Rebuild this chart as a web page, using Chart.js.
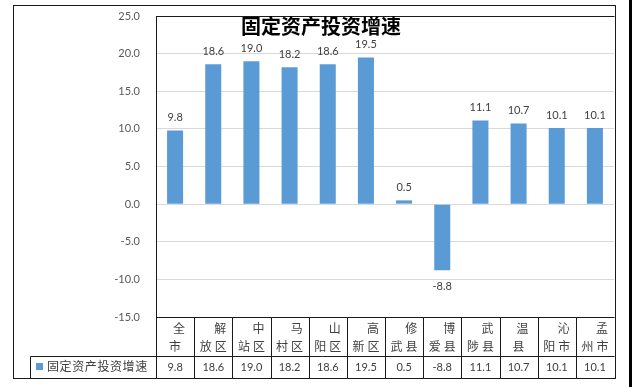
<!DOCTYPE html>
<html>
<head>
<meta charset="utf-8">
<script src="https://cdn.jsdelivr.net/npm/chart.js@4/dist/chart.umd.min.js"></script>
<style>
  html, body { margin: 0; padding: 0; background: #fff; }
  #wrap { width: 632px; height: 387px; }
</style>
</head>
<body>
<div id="wrap"><canvas id="chart" width="632" height="387"></canvas></div>
<script>
// 数据
const chartTitle = '固定资产投资增速';
const seriesName = '固定资产投资增速';
const categories = ['全市', '解放区', '中站区', '马村区', '山阳区', '高新区', '修武县', '博爱县', '武陟县', '温县', '沁阳市', '孟州市'];
const growth = [9.8, 18.6, 19.0, 18.2, 18.6, 19.5, 0.5, -8.8, 11.1, 10.7, 10.1, 10.1];
const yMin = -15, yMax = 25, yStep = 5;

const barColor = '#5B9BD5';
const textColor = '#404040';
const cjkFont = '"Noto Sans CJK SC", "Noto Sans", sans-serif';
const numFont = 'Lato, "Open Sans", sans-serif';

const px = v => Math.round(v) + 0.5;

// 外框和背景
const framePlugin = {
  id: 'frame',
  beforeDraw(chart) {
    const ctx = chart.ctx;
    ctx.save();
    ctx.fillStyle = '#fff';
    ctx.fillRect(0, 0, chart.width, chart.height);
    ctx.fillStyle = '#000';
    ctx.fillRect(629, 0, 3, chart.height);
    ctx.restore();
  },
  afterDraw(chart) {
    const ctx = chart.ctx;
    const a = chart.chartArea;
    ctx.save();
    ctx.strokeStyle = '#1a1a1a';
    ctx.lineWidth = 1;
    // 外框
    ctx.strokeRect(px(13), px(5), 615 - 13, 378 - 5);
    // 绘图区边线
    ctx.beginPath();
    ctx.moveTo(px(a.left), px(a.top));
    ctx.lineTo(px(a.right), px(a.top));
    ctx.moveTo(px(a.left), px(a.bottom));
    ctx.lineTo(px(a.right), px(a.bottom));
    ctx.moveTo(px(a.left), px(a.top));
    ctx.lineTo(px(a.left), 378);
    ctx.stroke();
    ctx.restore();
  }
};

// 标题
const titlePlugin = {
  id: 'chartTitle',
  afterDraw(chart) {
    const ctx = chart.ctx;
    ctx.save();
    ctx.font = 'bold 20px ' + cjkFont;
    ctx.fillStyle = '#000';
    ctx.textAlign = 'center';
    ctx.textBaseline = 'middle';
    ctx.fillText(chartTitle, 321, 26);
    ctx.restore();
  }
};

// 数据标签
const labelPlugin = {
  id: 'valueLabels',
  afterDatasetsDraw(chart) {
    const ctx = chart.ctx;
    const meta = chart.getDatasetMeta(0);
    ctx.save();
    ctx.font = '11px ' + numFont;
    ctx.fillStyle = textColor;
    ctx.textAlign = 'center';
    ctx.textBaseline = 'middle';
    meta.data.forEach((bar, i) => {
      const v = growth[i];
      const y = v >= 0 ? bar.y - 13 : bar.y + 16;
      ctx.fillText(v.toFixed(1), bar.x, y);
    });
    ctx.restore();
  }
};

// 模拟数据表
const tablePlugin = {
  id: 'dataTable',
  afterDraw(chart) {
    const ctx = chart.ctx;
    const a = chart.chartArea;
    const n = categories.length;
    const w = (a.right - a.left) / n;
    const rowTop = 356, rowBottom = 378, legendLeft = 30;
    ctx.save();
    ctx.strokeStyle = '#1a1a1a';
    ctx.lineWidth = 1;
    ctx.beginPath();
    for (let i = 1; i < n; i++) {
      const x = px(a.left + i * w);
      ctx.moveTo(x, a.bottom);
      ctx.lineTo(x, rowBottom);
    }
    ctx.moveTo(px(legendLeft), px(rowTop));
    ctx.lineTo(px(a.right), px(rowTop));
    ctx.moveTo(px(legendLeft), px(rowTop));
    ctx.lineTo(px(legendLeft), rowBottom);
    ctx.stroke();

    ctx.fillStyle = textColor;
    ctx.textBaseline = 'middle';
    categories.forEach((name, i) => {
      const left = a.left + i * w;
      const first = name.slice(0, 1);
      const rest = name.slice(1);
      ctx.font = '12px ' + cjkFont;
      ctx.letterSpacing = '0px';
      if (rest.length > 1) {
        ctx.textAlign = 'right';
        ctx.fillText(first, left + w - 6, 328);
      } else {
        ctx.textAlign = 'center';
        ctx.fillText(first, left + w / 2 + 4, 328);
      }
      ctx.letterSpacing = '3px';
      ctx.textAlign = 'center';
      ctx.fillText(rest, left + w / 2 + 1.5, 346);
      ctx.letterSpacing = '0px';
      ctx.font = '11px ' + numFont;
      ctx.fillText(growth[i].toFixed(1), left + w / 2, 367);
    });

    // 图例
    ctx.fillStyle = barColor;
    ctx.fillRect(36, 363, 7, 7);
    ctx.fillStyle = textColor;
    ctx.font = '12px ' + cjkFont;
    ctx.letterSpacing = '0.6px';
    ctx.textAlign = 'left';
    ctx.fillText(seriesName, 47, 366);
    ctx.restore();
  }
};

new Chart(document.getElementById('chart'), {
  type: 'bar',
  data: {
    labels: categories,
    datasets: [{
      label: seriesName,
      data: growth,
      backgroundColor: barColor,
      borderWidth: 0,
      barPercentage: 0.42,
      categoryPercentage: 1.0
    }]
  },
  options: {
    responsive: false,
    animation: false,
    devicePixelRatio: 1,
    layout: { padding: { left: 0, top: 16, right: 18, bottom: 70 } },
    plugins: {
      legend: { display: false },
      title: { display: false },
      tooltip: { enabled: false }
    },
    scales: {
      x: { display: false },
      y: {
        min: yMin,
        max: yMax,
        afterFit: s => { s.width = 156; },
        ticks: {
          stepSize: yStep,
          padding: 2,
          color: '#595959',
          font: { family: numFont, size: 11 },
          callback: v => v.toFixed(1)
        },
        grid: { color: '#d9d9d9', drawTicks: true, tickLength: 14, tickColor: 'rgba(0,0,0,0)' },
        border: { display: true, color: '#1a1a1a' }
      }
    }
  },
  plugins: [framePlugin, titlePlugin, labelPlugin, tablePlugin]
});
</script>
</body>
</html>
